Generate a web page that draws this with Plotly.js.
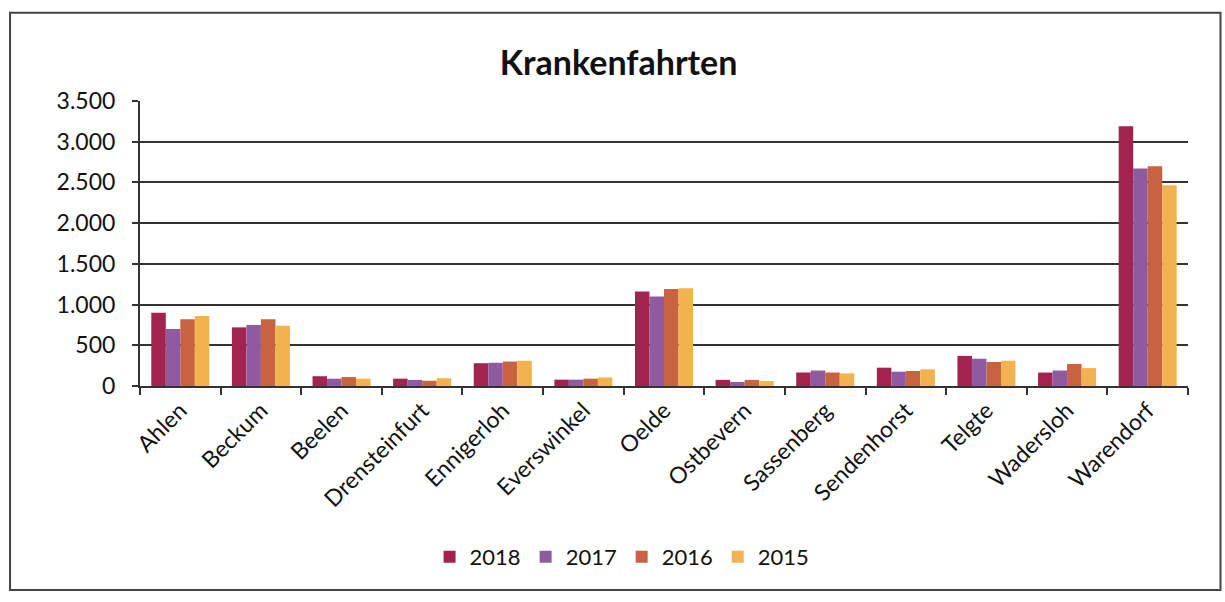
<!DOCTYPE html>
<html>
<head>
<meta charset="utf-8">
<script src="https://cdn.plot.ly/plotly-3.0.1.min.js"></script>
<style>html,body{margin:0;padding:0;background:#fff;}#chart{width:1225px;height:602px;}</style>
</head>
<body>
<div id="chart"></div>
<script>
const categories = ["Ahlen","Beckum","Beelen","Drensteinfurt","Ennigerloh","Everswinkel","Oelde","Ostbevern","Sassenberg","Sendenhorst","Telgte","Wadersloh","Warendorf"];
const years = ["2018","2017","2016","2015"];
const v2018 = [900, 720, 120, 90, 280, 78, 1160, 75, 166, 225, 370, 165, 3190];
const v2017 = [700, 750, 90, 75, 285, 78, 1100, 50, 190, 176, 335, 190, 2670];
const v2016 = [820, 820, 110, 65, 300, 90, 1190, 75, 166, 184, 295, 270, 2700];
const v2015 = [860, 740, 90, 95, 310, 105, 1200, 60, 155, 205, 310, 220, 2465];
const yTickVals = [0,500,1000,1500,2000,2500,3000,3500];
const yTickText = ["0","500","1.000","1.500","2.000","2.500","3.000","3.500"];

const colors = ["#a3234f","#8f5ba0","#c8623f","#f2b24f"];
const series = [v2018, v2017, v2016, v2015];
const font = "Lato, 'Open Sans', sans-serif";

const data = series.map((vals, i) => ({
  type: "bar",
  name: years[i],
  x: categories,
  y: vals,
  marker: {color: colors[i]},
  hoverinfo: "x+y+name"
}));

const layout = {
  width: 1225, height: 602,
  margin: {l: 140, r: 37, t: 101, b: 216},
  paper_bgcolor: "#fff", plot_bgcolor: "#fff",
  font: {family: font, color: "#111", size: 20},
  title: {text: "<b>Krankenfahrten</b>", x: 0.505, xanchor: "center", y: 0.895, yanchor: "middle",
          font: {family: font, size: 34, color: "#111"}},
  barmode: "group", bargap: 0.28, bargroupgap: 0,
  xaxis: {
    type: "category", tickangle: -45, tickfont: {size: 23, family: font},
    showline: true, linecolor: "#333", linewidth: 2,
    ticks: "outside", tickson: "boundaries", ticklen: 7, tickcolor: "#333", tickwidth: 2,
    showgrid: false
  },
  yaxis: {
    range: [0, 3500], tickvals: yTickVals, ticktext: yTickText,
    tickfont: {size: 23, family: font}, ticklabelstandoff: 12,
    showline: true, linecolor: "#333", linewidth: 2,
    ticks: "outside", ticklen: 6, tickcolor: "#333", tickwidth: 2,
    showgrid: true, gridcolor: "#333", gridwidth: 2, zeroline: false
  },
  legend: {orientation: "h", x: 0.46, xanchor: "center", y: -0.60, yanchor: "middle",
           font: {size: 22, family: font}, traceorder: "normal", itemwidth: 30},
  shapes: [{
    type: "rect", xref: "paper", yref: "paper",
    x0: -0.124, x1: 1.031, y0: -0.716, y1: 1.31,
    line: {color: "#444", width: 2}, fillcolor: "rgba(0,0,0,0)", layer: "below"
  }]
};

Plotly.newPlot("chart", data, layout, {displayModeBar: false, staticPlot: true});
</script>
</body>
</html>
